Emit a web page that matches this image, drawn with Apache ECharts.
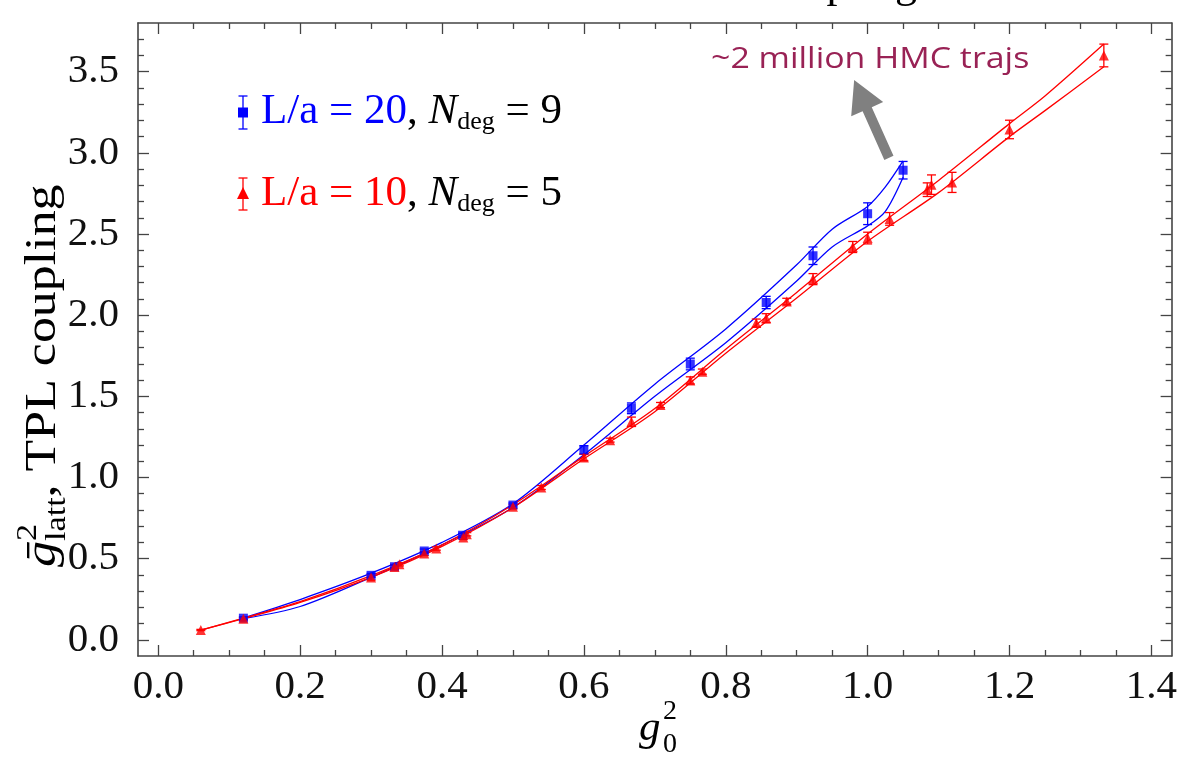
<!DOCTYPE html>
<html>
<head>
<meta charset="utf-8">
<script src="https://cdn.jsdelivr.net/npm/echarts@6/dist/echarts.min.js"></script>
<style>
  html, body { margin: 0; padding: 0; background: #ffffff; }
  #chart { width: 1180px; height: 761px; }
</style>
</head>
<body>
<div id="chart"></div>
<script>
// L/a = 20 measurements (blue squares): g0^2, coupling, error
const blueX   = [0.12, 0.30, 0.333, 0.375, 0.429, 0.50, 0.60, 0.667, 0.75, 0.857, 0.923, 1.00, 1.05];
const blueY   = [0.133, 0.397, 0.450, 0.547, 0.644, 0.830, 1.170, 1.426, 1.699, 2.078, 2.366, 2.625, 2.893];
const blueErr = [0.008, 0.012, 0.010, 0.012, 0.012, 0.012, 0.026, 0.033, 0.036, 0.038, 0.054, 0.067, 0.054];

// L/a = 10 measurements (red triangles)
const redX   = [0.06, 0.12, 0.30, 0.333, 0.34, 0.375, 0.392, 0.43, 0.435, 0.50, 0.54, 0.60, 0.637, 0.667,
                0.708, 0.75, 0.767, 0.843, 0.857, 0.886, 0.923, 0.979, 1.00, 1.031, 1.084, 1.09, 1.119, 1.20, 1.333];
const redY   = [0.060, 0.130, 0.383, 0.448, 0.465, 0.531, 0.562, 0.630, 0.650, 0.820, 0.938, 1.123, 1.230, 1.343,
                1.446, 1.598, 1.652, 1.951, 1.981, 2.084, 2.222, 2.420, 2.475, 2.593, 2.773, 2.804, 2.818, 3.144, 3.600];
const redErr = [0.004, 0.008, 0.016, 0.012, 0.010, 0.012, 0.010, 0.012, 0.010, 0.012, 0.012, 0.020, 0.012, 0.029,
                0.016, 0.022, 0.016, 0.025, 0.028, 0.020, 0.034, 0.034, 0.036, 0.039, 0.042, 0.060, 0.062, 0.057, 0.070];

// Fit error bands: upper and lower boundary curves
const blueFitX     = [0.12, 0.20, 0.30, 0.40, 0.50, 0.60, 0.70, 0.80, 0.90, 0.95, 1.00, 1.025, 1.05];
const blueFitUpper = [0.135, 0.248, 0.410, 0.600, 0.838, 1.200, 1.575, 1.915, 2.310, 2.530, 2.670, 2.790, 2.950];
const blueFitLower = [0.130, 0.205, 0.385, 0.585, 0.815, 1.140, 1.500, 1.830, 2.210, 2.420, 2.550, 2.640, 2.850];

const redFitX     = [0.06, 0.12, 0.20, 0.30, 0.40, 0.50, 0.60, 0.70, 0.80, 0.90, 1.00, 1.10, 1.20, 1.25, 1.333];
const redFitUpper = [0.060, 0.133, 0.235, 0.395, 0.585, 0.832, 1.130, 1.425, 1.790, 2.140, 2.500, 2.830, 3.180, 3.350, 3.670];
const redFitLower = [0.060, 0.130, 0.230, 0.385, 0.575, 0.815, 1.115, 1.405, 1.765, 2.105, 2.455, 2.755, 3.100, 3.260, 3.530];

// Axis ticks
const xMajorTicks = [0.0, 0.2, 0.4, 0.6, 0.8, 1.0, 1.2, 1.4];
const xMinorTicks = [0.05, 0.1, 0.15, 0.25, 0.3, 0.35, 0.45, 0.5, 0.55, 0.65, 0.7, 0.75, 0.85, 0.9, 0.95,
                     1.05, 1.1, 1.15, 1.25, 1.3, 1.35];
const yMajorTicks = [0.0, 0.5, 1.0, 1.5, 2.0, 2.5, 3.0, 3.5];
const yMinorTicks = [0.1, 0.2, 0.3, 0.4, 0.6, 0.7, 0.8, 0.9, 1.1, 1.2, 1.3, 1.4, 1.6, 1.7, 1.8, 1.9,
                     2.1, 2.2, 2.3, 2.4, 2.6, 2.7, 2.8, 2.9, 3.1, 3.2, 3.3, 3.4, 3.6, 3.7];

// Arrow pointing from the last L/a = 20 point to its note: [x tail, y tail, x tip, y tip]
const noteArrow = [[1.030, 2.969, 0.981, 3.449]];

const SERIF = '"Liberation Serif", "Times New Roman", "DejaVu Serif", serif';
const BLUE = '#0000ff';
const RED = '#ff0000';
const FRAME = '#444444';

const zip = (xs, ys) => xs.map((x, i) => [x, ys[i]]);
const zip3 = (xs, ys, es) => xs.map((x, i) => [x, ys[i], es[i]]);

function errorBars(capHalf, color) {
  return function (params, api) {
    const x = api.value(0), y = api.value(1), e = api.value(2);
    const hi = api.coord([x, y + e]);
    const lo = api.coord([x, y - e]);
    const style = { stroke: color, lineWidth: 1.3 };
    return {
      type: 'group',
      children: [
        { type: 'line', shape: { x1: hi[0], y1: hi[1], x2: lo[0], y2: lo[1] }, style: style },
        { type: 'line', shape: { x1: hi[0] - capHalf, y1: hi[1], x2: hi[0] + capHalf, y2: hi[1] }, style: style },
        { type: 'line', shape: { x1: lo[0] - capHalf, y1: lo[1], x2: lo[0] + capHalf, y2: lo[1] }, style: style }
      ]
    };
  };
}

function arrowShape(params, api) {
  const p0 = api.coord([api.value(0), api.value(1)]);
  const p1 = api.coord([api.value(2), api.value(3)]);
  const dx = p1[0] - p0[0], dy = p1[1] - p0[1];
  const len = Math.hypot(dx, dy);
  const ux = dx / len, uy = dy / len, nx = -uy, ny = ux;
  const headLen = 32, headHalf = 17.5, shaftHalf = 5;
  const bx = p1[0] - ux * headLen, by = p1[1] - uy * headLen;
  return {
    type: 'polygon',
    shape: {
      points: [
        [p0[0] + nx * shaftHalf, p0[1] + ny * shaftHalf],
        [bx + nx * shaftHalf, by + ny * shaftHalf],
        [bx + nx * headHalf, by + ny * headHalf],
        [p1[0], p1[1]],
        [bx - nx * headHalf, by - ny * headHalf],
        [bx - nx * shaftHalf, by - ny * shaftHalf],
        [p0[0] - nx * shaftHalf, p0[1] - ny * shaftHalf]
      ]
    },
    style: { fill: '#808080' }
  };
}

function fitLine(name, xs, ys, color) {
  return {
    name: name, type: 'line', xAxisIndex: 0, yAxisIndex: 0,
    data: zip(xs, ys), smooth: 0.3, showSymbol: false, silent: true,
    lineStyle: { color: color, width: 1.3 }, z: 2
  };
}

function tickAxis(kind, position, values, len, opts) {
  const base = {
    type: 'value', position: position,
    min: kind === 'x' ? -0.2 / 7 : -0.1,
    max: kind === 'x' ? 10 / 7 : 3.8,
    splitLine: { show: false },
    axisLine: { show: !!opts.line, onZero: false, lineStyle: { color: FRAME, width: 1.6 } },
    axisTick: { show: true, inside: true, length: len, customValues: values,
                lineStyle: { color: FRAME, width: 1.3 } },
    axisLabel: { show: false }
  };
  if (opts.labels) {
    base.axisLabel = {
      show: true, customValues: values,
      formatter: v => Number(v).toFixed(1),
      fontFamily: SERIF, fontSize: 41, color: '#111111',
      margin: kind === 'x' ? 11 : 19
    };
  }
  return base;
}

const chart = echarts.init(document.getElementById('chart'), null, { renderer: 'canvas' });

const legendRich = (color) => ({
  c: { fill: color, fontFamily: SERIF, fontSize: 43, lineHeight: 46 },
  k: { fill: '#000000', fontFamily: SERIF, fontSize: 43, lineHeight: 46 },
  n: { fill: '#000000', fontFamily: SERIF, fontSize: 43, fontStyle: 'italic', lineHeight: 46 },
  s: { fill: '#000000', fontFamily: SERIF, fontSize: 26, lineHeight: 26, verticalAlign: 'bottom' }
});

const option = {
  animation: false,
  backgroundColor: '#ffffff',
  title: {
    text: 'Lattice vs. TPL coupling',
    right: 258, top: -42,
    textStyle: { fontFamily: SERIF, fontSize: 44, fontWeight: 'normal', color: '#000000' }
  },
  grid: { left: 138, right: 7, top: 23, bottom: 105, containLabel: false },
  xAxis: [
    tickAxis('x', 'bottom', xMajorTicks, 11, { line: true, labels: true }),
    tickAxis('x', 'bottom', xMinorTicks, 6, {}),
    tickAxis('x', 'top', xMajorTicks, 11, { line: true }),
    tickAxis('x', 'top', xMinorTicks, 6, {})
  ],
  yAxis: [
    tickAxis('y', 'left', yMajorTicks, 11, { line: true, labels: true }),
    tickAxis('y', 'left', yMinorTicks, 6, {}),
    tickAxis('y', 'right', yMajorTicks, 11, { line: true }),
    tickAxis('y', 'right', yMinorTicks, 6, {})
  ],
  series: [
    fitLine('L/a = 20 upper', blueFitX, blueFitUpper, BLUE),
    fitLine('L/a = 20 lower', blueFitX, blueFitLower, BLUE),
    {
      name: 'L/a = 20 errors', type: 'custom', xAxisIndex: 0, yAxisIndex: 0,
      data: zip3(blueX, blueY, blueErr), encode: { x: 0, y: 1 },
      renderItem: errorBars(4.5, BLUE), silent: true, z: 3
    },
    {
      name: 'L/a = 20', type: 'scatter', xAxisIndex: 0, yAxisIndex: 0,
      data: zip(blueX, blueY), symbol: 'rect', symbolSize: 9,
      itemStyle: { color: BLUE }, silent: true, z: 4
    },
    fitLine('L/a = 10 upper', redFitX, redFitUpper, RED),
    fitLine('L/a = 10 lower', redFitX, redFitLower, RED),
    {
      name: 'L/a = 10 errors', type: 'custom', xAxisIndex: 0, yAxisIndex: 0,
      data: zip3(redX, redY, redErr), encode: { x: 0, y: 1 },
      renderItem: errorBars(4.5, RED), silent: true, z: 3
    },
    {
      name: 'L/a = 10', type: 'scatter', xAxisIndex: 0, yAxisIndex: 0,
      data: zip(redX, redY), symbol: 'triangle', symbolSize: 10,
      itemStyle: { color: RED }, silent: true, z: 4
    },
    {
      name: 'note arrow', type: 'custom', xAxisIndex: 0, yAxisIndex: 0,
      data: noteArrow, encode: { x: [0, 2], y: [1, 3] },
      renderItem: arrowShape, silent: true, z: 5
    }
  ],
  graphic: [
    // legend: L/a = 20
    { type: 'line', shape: { x1: 243, y1: 96, x2: 243, y2: 129 }, style: { stroke: BLUE, lineWidth: 1.3 } },
    { type: 'line', shape: { x1: 238.5, y1: 96, x2: 247.5, y2: 96 }, style: { stroke: BLUE, lineWidth: 1.3 } },
    { type: 'line', shape: { x1: 238.5, y1: 129, x2: 247.5, y2: 129 }, style: { stroke: BLUE, lineWidth: 1.3 } },
    { type: 'rect', shape: { x: 238, y: 107.5, width: 10, height: 10 }, style: { fill: BLUE } },
    {
      type: 'text', x: 261, y: 112,
      style: { text: '{c|L/a = 20}{k|, }{n|N}{s|deg}{k| = 9}', verticalAlign: 'middle', align: 'left', rich: legendRich(BLUE) }
    },
    // legend: L/a = 10
    { type: 'line', shape: { x1: 243, y1: 178, x2: 243, y2: 210 }, style: { stroke: RED, lineWidth: 1.3 } },
    { type: 'line', shape: { x1: 238.5, y1: 178, x2: 247.5, y2: 178 }, style: { stroke: RED, lineWidth: 1.3 } },
    { type: 'line', shape: { x1: 238.5, y1: 210, x2: 247.5, y2: 210 }, style: { stroke: RED, lineWidth: 1.3 } },
    { type: 'polygon', shape: { points: [[243, 187], [249, 199], [237, 199]] }, style: { fill: RED } },
    {
      type: 'text', x: 261, y: 194,
      style: { text: '{c|L/a = 10}{k|, }{n|N}{s|deg}{k| = 5}', verticalAlign: 'middle', align: 'left', rich: legendRich(RED) }
    },
    // note beside the arrow
    {
      type: 'text', x: 711, y: 59, scaleX: 1.13,
      style: {
        text: '~2 million HMC trajs', fill: '#992255',
        font: '30px "Open Sans", Lato, sans-serif',
        verticalAlign: 'middle', align: 'left'
      }
    },
    // x axis title: g0^2
    {
      type: 'group', x: 639, y: 743,
      children: [
        { type: 'text', x: 0, y: -14.5, style: { text: 'g', font: 'italic 43px ' + SERIF, fill: '#000', verticalAlign: 'middle' } },
        { type: 'text', x: 24, y: 1.5, style: { text: '0', font: '28px ' + SERIF, fill: '#000', verticalAlign: 'middle' } },
        { type: 'text', x: 24, y: -31, style: { text: '2', font: '28px ' + SERIF, fill: '#000', verticalAlign: 'middle' } }
      ]
    },
    // y axis title, rotated to read upwards
    {
      type: 'group', x: 58, y: 567, rotation: Math.PI / 2, scaleX: 1.18,
      children: [
        { type: 'text', x: 0, y: -15, style: { text: 'ḡ', font: 'italic 44px ' + SERIF, fill: '#000', verticalAlign: 'middle' } },
        { type: 'text', x: 22, y: -30, style: { text: '2', font: '29px ' + SERIF, fill: '#000', verticalAlign: 'middle' } },
        { type: 'text', x: 22, y: -1, style: { text: 'latt', font: '29px ' + SERIF, fill: '#000', verticalAlign: 'middle' } },
        { type: 'text', x: 59, y: -15, style: { text: ', TPL coupling', font: '44px ' + SERIF, fill: '#000', verticalAlign: 'middle' } }
      ]
    }
  ]
};

chart.setOption(option);
</script>
</body>
</html>
